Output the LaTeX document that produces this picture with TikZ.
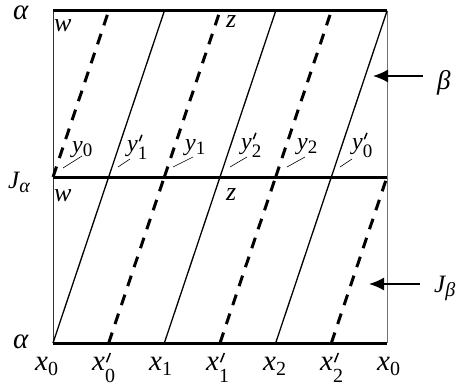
\documentclass[tikz,border=0pt]{standalone}
\usepackage{fontspec}
\usepackage{graphicx}
\setmainfont{Liberation Serif}
\usetikzlibrary{arrows.meta}
% #1 main size, #2 sub size, #3 letter, #4 subscript, #5 drop
\newcommand{\lab}[5]{{\fontsize{#1}{#1}\selectfont\itshape #3}\raisebox{-#5}{\fontsize{#2}{#2}\selectfont #4}}
% same plus prime: #6 prime length, #7 prime raise
\newcommand{\labp}[7]{{\fontsize{#1}{#1}\selectfont\itshape #3}\makebox[0pt][l]{\raisebox{#7}{\kern0.8pt\rotatebox{-22}{\rule{1.5pt}{#6}}}}\raisebox{-#5}{\fontsize{#2}{#2}\selectfont #4}}
\begin{document}
\begin{tikzpicture}[x=1pt,y=-1pt,font=\fontsize{26}{30}\selectfont,
  heavy/.style={line width=3pt},
  leftside/.style={line width=0.8pt,draw=black!80},
  rightside/.style={line width=0.8pt,draw=black!55},
  solidslant/.style={line width=1.3pt},
  dashslant/.style={line width=3pt,dash pattern=on 11pt off 9pt},
  leader/.style={line width=0.6pt},
  lbl/.style={inner sep=0pt,anchor=base west},
  arr/.style={line width=1.6pt,-{Latex[length=15pt,width=13pt]}}]
\useasboundingbox (0,0) rectangle (462,385);
\foreach \i in {0,...,6}{
  \coordinate (t\i) at ({53+\i*55.667},11);
  \coordinate (m\i) at ({53+\i*55.667},177);
  \coordinate (b\i) at ({53+\i*55.667},343);
}
% frame
\draw[leftside] (t0) -- (b0);
\draw[rightside] (t6) -- (b6);
% upper half slanted lines
\draw[dashslant] (m0) -- (t1);
\draw[solidslant] (m1) -- (t2);
\draw[dashslant] (m2) -- (t3);
\draw[solidslant] (m3) -- (t4);
\draw[dashslant] (m4) -- (t5);
\draw[solidslant] (m5) -- (t6);
% lower half slanted lines
\draw[solidslant] (b0) -- (m1);
\draw[dashslant] (b1) -- (m2);
\draw[solidslant] (b2) -- (m3);
\draw[dashslant] (b3) -- (m4);
\draw[solidslant] (b4) -- (m5);
\draw[dashslant] (b5) -- (m6);
% heavy horizontals
\draw[heavy] (t0) -- (t6);
\draw[heavy] (m0) -- (m6);
\draw[heavy] (b0) -- (b6);
% left labels
\node[lbl] (atop) at (13,20) {\fontsize{29}{30}\selectfont\textit{α}};
\node[lbl] (abot) at (13,348) {\fontsize{29}{30}\selectfont\textit{α}};
\node[lbl] (Ja) at (8,188) {\lab{25}{20}{J}{\itshape α}{4pt}};
% w, z
\node[lbl] (w1) at (54,32) {\textit{w}};
\node[lbl] (w2) at (54,201) {\textit{w}};
\node[lbl] (z1) at (226,28) {\textit{z}};
\node[lbl] (z2) at (226,200) {\textit{z}};
% y labels with leaders
\node[lbl] (y0) at (72,152) {\lab{24}{19}{y}{0}{4pt}};
\node[lbl] (y1p) at (127,151) {\labp{24}{19}{y}{1}{8pt}{7pt}{10pt}};
\node[lbl] (y1) at (185,150) {\lab{24}{19}{y}{1}{4pt}};
\node[lbl] (y2p) at (241,149) {\labp{24}{19}{y}{2}{8pt}{7pt}{10pt}};
\node[lbl] (y2) at (297,149) {\lab{24}{19}{y}{2}{4pt}};
\node[lbl] (y0p) at (352,149) {\labp{24}{19}{y}{0}{8pt}{7pt}{10pt}};
\coordinate (l0a) at (63,168); \coordinate (l0b) at (82,156);
\coordinate (l1a) at (118,167); \coordinate (l1b) at (130,159);
\coordinate (l2a) at (173,167); \coordinate (l2b) at (193,157);
\coordinate (l3a) at (230,167); \coordinate (l3b) at (247,157);
\coordinate (l4a) at (287,167); \coordinate (l4b) at (305,157);
\coordinate (l5a) at (340,167); \coordinate (l5b) at (352,159);
\draw[leader] (l0a) -- (l0b);
\draw[leader] (l1a) -- (l1b);
\draw[leader] (l2a) -- (l2b);
\draw[leader] (l3a) -- (l3b);
\draw[leader] (l4a) -- (l4b);
\draw[leader] (l5a) -- (l5b);
% bottom labels
\node[lbl] (bx0) at (35,370) {\lab{29}{20}{x}{0}{5pt}};
\node[lbl] (bx0p) at (92,370) {\labp{29}{20}{x}{0}{12pt}{10pt}{8pt}};
\node[lbl] (bx1) at (149,370) {\lab{29}{20}{x}{1}{5pt}};
\node[lbl] (bx1p) at (206,370) {\labp{29}{20}{x}{1}{12pt}{10pt}{8pt}};
\node[lbl] (bx2) at (263,370) {\lab{29}{20}{x}{2}{5pt}};
\node[lbl] (bx2p) at (320,370) {\labp{29}{20}{x}{2}{12pt}{10pt}{8pt}};
\node[lbl] (bx0e) at (377,370) {\lab{29}{20}{x}{0}{5pt}};
% arrows
\node[lbl] (beta) at (437,89) {\fontsize{27}{30}\selectfont\textit{β}};
\coordinate (btail) at (423,76); \coordinate (bhead) at (373,76);
\draw[arr] (btail) -- (bhead);
\node[lbl] (Jb) at (434,292) {\lab{25}{20}{J}{\itshape β}{4pt}};
\coordinate (jtail) at (420,284); \coordinate (jhead) at (369,284);
\draw[arr] (jtail) -- (jhead);
\end{tikzpicture}
\end{document}
